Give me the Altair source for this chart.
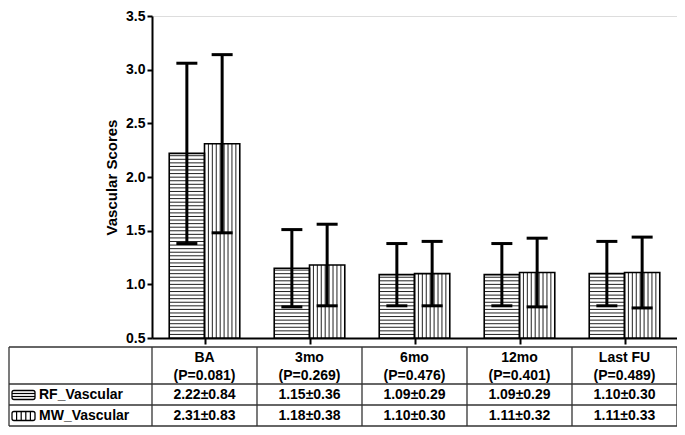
import altair as alt
import pandas as pd

# ---- data ----
categories = ["BA", "3mo", "6mo", "12mo", "Last FU"]
p_values = ["0.081", "0.269", "0.476", "0.401", "0.489"]
series_names = ["RF_Vascular", "MW_Vascular"]
rf_mean = [2.22, 1.15, 1.09, 1.09, 1.10]
rf_sd = [0.84, 0.36, 0.29, 0.29, 0.30]
mw_mean = [2.31, 1.18, 1.10, 1.11, 1.11]
mw_sd = [0.83, 0.38, 0.30, 0.32, 0.33]
y_ticks = [0.5, 1.0, 1.5, 2.0, 2.5, 3.0, 3.5]

# ---- layout (style only) ----
W, H = 525, 322
BAR_LEFT, BAR_W, CAP = 0.164, 0.336, 0.1
Y0 = 0.5
H_STEP = 0.0333
V_LINES = 8
FONT = "Liberation Sans"
TFS = 14

# table geometry in pixels relative to the plot origin
T_TOP, T_HDR, T_R1, T_BOT = 331, 368, 389, 410
T_LEFT, T_RIGHT = -143, W
HDR1_Y, HDR2_Y = 341.5, 359.5
ROW_Y = [379, 400]

xscale = alt.Scale(domain=[0, 5], nice=False, zero=False)
yscale = alt.Scale(domain=[0.5, 3.5], nice=False, zero=False)
xaxis = alt.Axis(values=[i + 0.5 for i in range(len(categories))], labels=False,
                 tickSize=6, tickWidth=2, tickColor="black", domainColor="black",
                 domainWidth=2, grid=False, title=None)
yaxis = alt.Axis(values=y_ticks, format=".1f", labelFontSize=14, labelFontWeight="bold",
                 labelColor="black", labelFont=FONT, tickSize=5, tickWidth=2,
                 tickColor="black", domainColor="black", domainWidth=2, grid=False,
                 title="Vascular Scores", titleFontSize=15, titleFontWeight="bold",
                 titleFont=FONT, titleColor="black", titlePadding=6, labelPadding=2)


def X(f):
    return alt.X(f"{f}:Q", scale=xscale, axis=xaxis)


def X2(f):
    return alt.X2(f"{f}:Q")


def Y(f):
    return alt.Y(f"{f}:Q", scale=yscale, axis=yaxis)


def Y2(f):
    return alt.Y2(f"{f}:Q")


# ---- build tables ----
bars, hh, vv, caps = [], [], [], []
for i, cat in enumerate(categories):
    for s, (means, sds) in enumerate([(rf_mean, rf_sd), (mw_mean, mw_sd)]):
        x0 = i + BAR_LEFT + s * BAR_W
        x1 = x0 + BAR_W
        m, sd = means[i], sds[i]
        xc = (x0 + x1) / 2
        bars.append(dict(cat=cat, series=series_names[s], x0=x0, x1=x1, xc=xc,
                         mean=m, base=Y0, lo=m - sd, hi=m + sd))
        caps.append(dict(cl=xc - CAP, cr=xc + CAP, y=m + sd))
        caps.append(dict(cl=xc - CAP, cr=xc + CAP, y=m - sd))
        if s == 0:
            y = Y0 + H_STEP
            while y < m - 0.005:
                hh.append(dict(x0=x0, x1=x1, y=y))
                y += H_STEP
        else:
            for k in range(1, V_LINES + 1):
                vv.append(dict(x=x0 + k * BAR_W / (V_LINES + 1), y0=Y0, y1=m))

bars_df = pd.DataFrame(bars)
hh_df = pd.DataFrame(hh)
vv_df = pd.DataFrame(vv)
caps_df = pd.DataFrame(caps)

bar_fill = alt.Chart(bars_df).mark_rect(fill="white").encode(
    x=X("x0"), x2=X2("x1"), y=Y("mean"), y2=Y2("base"))
hatch_h = alt.Chart(hh_df).mark_rule(color="#222", strokeWidth=1).encode(
    x=X("x0"), x2=X2("x1"), y=Y("y"))
hatch_v = alt.Chart(vv_df).mark_rule(color="#222", strokeWidth=1).encode(
    x=X("x"), y=Y("y0"), y2=Y2("y1"))
bar_line = alt.Chart(bars_df).mark_rect(fill=None, stroke="black", strokeWidth=1.6).encode(
    x=X("x0"), x2=X2("x1"), y=Y("mean"), y2=Y2("base"))
err = alt.Chart(bars_df).mark_rule(color="black", strokeWidth=3).encode(
    x=X("xc"), y=Y("lo"), y2=Y2("hi"))
cap = alt.Chart(caps_df).mark_rule(color="black", strokeWidth=3).encode(
    x=X("cl"), x2=X2("cr"), y=Y("y"))

# ---- table below the plot ----
TCOL = "#333"
hlines_df = pd.DataFrame({"py": [T_TOP, T_HDR, T_R1, T_BOT]})
hlines = alt.Chart(hlines_df).mark_rule(color=TCOL, strokeWidth=1.3).encode(
    x=alt.value(T_LEFT), x2=alt.value(T_RIGHT), y=alt.Y("py:Q", scale=None))
vdiv_df = pd.DataFrame({"k": list(range(len(categories) + 1))})
vdiv = alt.Chart(vdiv_df).mark_rule(color=TCOL, strokeWidth=1.3).encode(
    x=X("k"), y=alt.value(T_TOP), y2=alt.value(T_BOT))
lborder = alt.Chart(pd.DataFrame({"k": [0]})).mark_rule(color=TCOL, strokeWidth=1.3).encode(
    x=alt.value(T_LEFT), y=alt.value(T_TOP), y2=alt.value(T_BOT))

head_df = pd.DataFrame({"xc": [i + 0.5 for i in range(len(categories))],
                        "cat": categories,
                        "p": [f"(P={p})" for p in p_values]})
txt = dict(font=FONT, fontSize=TFS, fontWeight="bold", color="black",
           align="center", baseline="middle")
head1 = alt.Chart(head_df).mark_text(**txt).encode(
    x=X("xc"), y=alt.value(HDR1_Y), text="cat:N")
head2 = alt.Chart(head_df).mark_text(**txt).encode(
    x=X("xc"), y=alt.value(HDR2_Y), text="p:N")

cells = []
for r, (means, sds) in enumerate([(rf_mean, rf_sd), (mw_mean, mw_sd)]):
    for i in range(len(categories)):
        cells.append(dict(xc=i + 0.5, py=ROW_Y[r], t=f"{means[i]:.2f}±{sds[i]:.2f}"))
cells_df = pd.DataFrame(cells)
cell_txt = alt.Chart(cells_df).mark_text(**txt).encode(
    x=X("xc"), y=alt.Y("py:Q", scale=None), text="t:N")

lab_df = pd.DataFrame({"name": series_names, "py": ROW_Y})
lab_txt = alt.Chart(lab_df).mark_text(**{**txt, "align": "left"}).encode(
    x=alt.value(-113), y=alt.Y("py:Q", scale=None), text="name:N")

# legend swatches
SW_L, SW_R = -140, -117
sw_df = pd.DataFrame({"py0": [r - 4.5 for r in ROW_Y], "py1": [r + 4.5 for r in ROW_Y]})
sw = alt.Chart(sw_df).mark_rect(fill="white", stroke="black", strokeWidth=1.3,
                                cornerRadius=2).encode(
    x=alt.value(SW_L), x2=alt.value(SW_R),
    y=alt.Y("py0:Q", scale=None), y2=alt.Y2("py1:Q"))
swh_df = pd.DataFrame({"py": [ROW_Y[0] - 1.5, ROW_Y[0] + 1.5]})
swh = alt.Chart(swh_df).mark_rule(color="black", strokeWidth=1.2).encode(
    x=alt.value(SW_L), x2=alt.value(SW_R), y=alt.Y("py:Q", scale=None))
swv_df = pd.DataFrame({"px": [SW_L + (SW_R - SW_L) * k / 5 for k in range(1, 5)]})
swv = alt.Chart(swv_df).mark_rule(color="black", strokeWidth=1.2).encode(
    x=alt.X("px:Q", scale=None), y=alt.value(ROW_Y[1] - 4.5), y2=alt.value(ROW_Y[1] + 4.5))

chart = alt.layer(
    bar_fill, hatch_h, hatch_v, bar_line, err, cap,
    hlines, vdiv, lborder, head1, head2, cell_txt, lab_txt, sw, swh, swv
).properties(
    width=W, height=H,
    autosize=alt.AutoSizeParams(type="none"),
    padding={"left": 144, "top": 8, "right": 0, "bottom": 89},
).configure_view(stroke=None).configure(font=FONT)

chart.save("out.html", embed_options={"renderer": "svg", "actions": False})
